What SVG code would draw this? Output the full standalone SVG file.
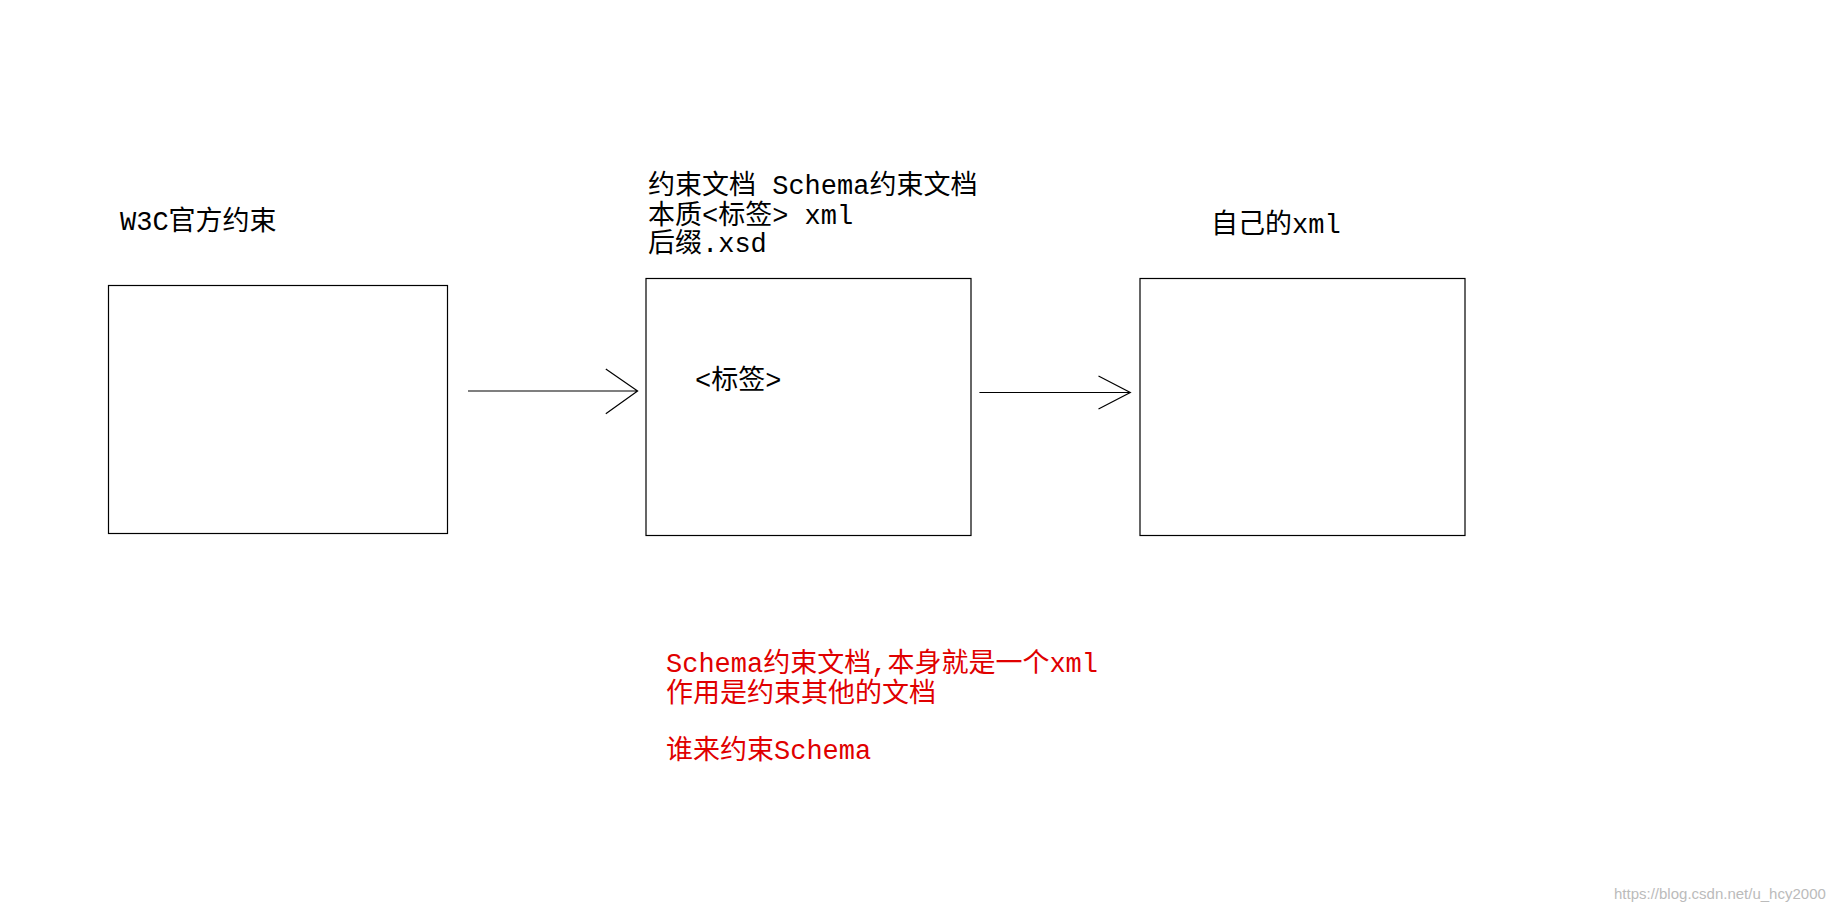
<svg xmlns="http://www.w3.org/2000/svg" width="1848" height="912" viewBox="0 0 1848 912">
<style>
.box{fill:none;stroke:#000;stroke-width:1.2}
.ln{fill:none;stroke:#000;stroke-width:1.2}
text{font-family:"Liberation Mono","Noto Sans CJK SC",monospace;font-size:27px}
.r{fill:#e00000}
</style>
<rect width="1848" height="912" fill="#fff"/>
<g id="n1"><rect class="box" x="108.5" y="285.5" width="339" height="248"/><text x="120" y="230">W3C官方约束</text></g>
<g id="n2"><rect class="box" x="646" y="278.5" width="325" height="257"/>
<text x="648" y="194">约束文档 Schema约束文档</text><text x="648" y="224">本质&lt;标签&gt; xml</text><text x="648" y="252">后缀.xsd</text>
<text x="695" y="389">&lt;标签&gt;</text></g>
<g id="n3"><rect class="box" x="1140" y="278.5" width="325" height="257"/><text x="1211" y="233">自己的xml</text></g>
<g id="connectors">
<path class="ln" d="M468 391H637.6M605.8 369L637.6 391L605.8 413.7"/>
<path class="ln" d="M979.4 392.5H1130.3M1098.5 376L1130.3 392.5L1098.5 409"/>
</g>
<g id="notes">
<text class="r" x="666" y="672">Schema约束文档,本身就是一个xml</text>
<text class="r" x="666" y="702">作用是约束其他的文档</text>
<text class="r" x="666" y="759">谁来约束Schema</text>
</g>
<text x="1614" y="899" style="font-family:'Liberation Sans',sans-serif;font-size:15px;fill:#bbb">https://blog.csdn.net/u_hcy2000</text>
</svg>
